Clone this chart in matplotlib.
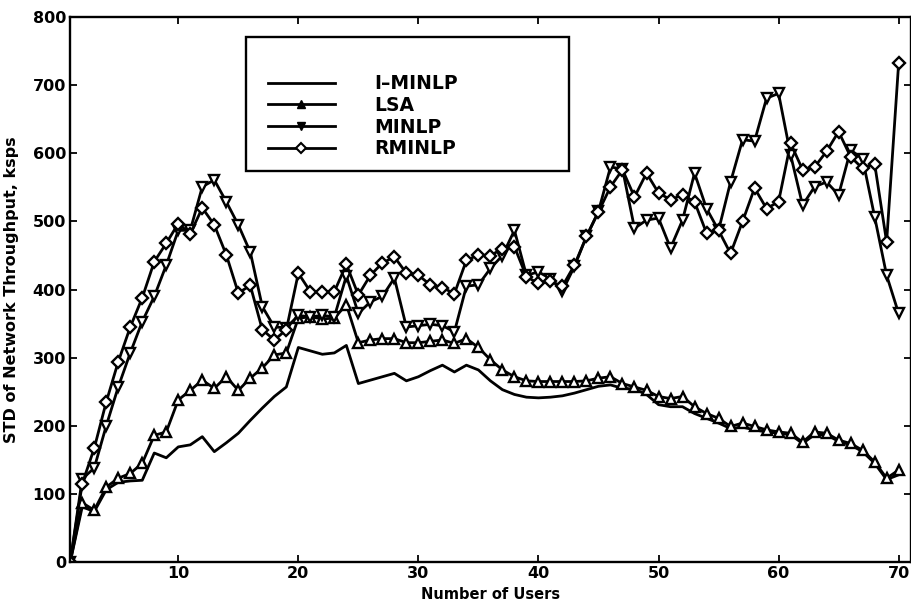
import matplotlib
matplotlib.use("Agg")
import matplotlib.pyplot as plt
from matplotlib.patches import Rectangle
from matplotlib.lines import Line2D

plt.rcParams["font.family"] = ["DejaVu Sans"]
plt.rcParams["font.weight"] = "bold"

users = list(range(1, 71))

i_minlp = [0, 81, 74, 106, 117, 119, 120, 160, 153, 169,
           172, 184, 162, 175, 189, 208, 226, 243, 257, 315,
           310, 305, 307, 318, 262, 267, 272, 277, 266, 272,
           281, 289, 279, 289, 282, 266, 253, 246, 242, 241,
           242, 244, 248, 253, 258, 260, 255, 254, 246, 231,
           228, 228, 218, 211, 204, 196, 198, 194, 191, 189,
           187, 174, 187, 187, 177, 172, 162, 145, 121, 128]

lsa = [0, 87, 76, 110, 123, 130, 145, 186, 191, 238,
       252, 267, 255, 272, 252, 270, 285, 304, 307, 358,
       360, 357, 358, 378, 322, 326, 328, 328, 322, 322,
       324, 326, 321, 328, 315, 297, 282, 272, 266, 265,
       265, 265, 265, 266, 270, 272, 262, 257, 252, 243,
       240, 243, 228, 218, 211, 199, 204, 199, 194, 191,
       189, 176, 191, 189, 179, 174, 164, 147, 123, 135]

minlp = [0, 122, 138, 200, 257, 307, 353, 390, 436, 487,
         487, 551, 561, 529, 495, 455, 375, 345, 344, 362,
         360, 362, 360, 420, 365, 382, 390, 417, 345, 347,
         349, 347, 338, 405, 407, 431, 450, 487, 421, 426,
         416, 398, 434, 478, 515, 580, 577, 490, 502, 505,
         461, 502, 571, 519, 487, 558, 620, 618, 681, 688,
         598, 524, 551, 558, 539, 605, 592, 507, 421, 365]

rminlp = [0, 115, 167, 235, 294, 345, 388, 441, 468, 497,
          482, 520, 495, 451, 395, 406, 341, 326, 341, 424,
          397, 397, 397, 437, 392, 421, 439, 448, 424, 421,
          407, 403, 394, 443, 451, 450, 460, 463, 419, 409,
          412, 405, 436, 478, 514, 551, 576, 536, 571, 542,
          532, 539, 529, 483, 487, 453, 500, 549, 519, 529,
          615, 576, 580, 603, 632, 595, 578, 585, 470, 732]

labels = ["I\u2013MINLP", "LSA", "MINLP", "RMINLP"]
x_ticks = [10, 20, 30, 40, 50, 60, 70]
y_ticks = [0, 100, 200, 300, 400, 500, 600, 700, 800]

fig = plt.figure(figsize=(9.12, 6.05), dpi=100)
ax = fig.add_axes([0.077, 0.0711, 0.9215, 0.9005])

lw = 2.0
mk = dict(markersize=7.5, markerfacecolor="white", markeredgecolor="black",
          markeredgewidth=1.7)
ax.plot(users, i_minlp, color="black", lw=lw)
ax.plot(users, lsa, color="black", lw=lw, marker="^", **mk)
ax.plot(users, minlp, color="black", lw=lw, marker="v", **mk)
ax.plot(users, rminlp, color="black", lw=lw, marker="D", **dict(mk, markersize=6))

ax.set_xlim(1, 71)
ax.set_ylim(0, 800)
ax.set_xticks(x_ticks)
ax.set_yticks(y_ticks)
ax.tick_params(direction="in", top=True, right=True, length=5, width=1.3,
               labelsize=11.5, pad=3)
for s in ax.spines.values():
    s.set_linewidth(1.7)

ax.set_xlabel("Number of Users", fontsize=10.5, fontweight="bold", labelpad=4)
ax.set_ylabel("STD of Network Throughput, ksps", fontsize=11.5,
              fontweight="bold", labelpad=10)

# legend frame
ax.add_patch(Rectangle((0.209, 0.7174), 0.385, 0.246, transform=ax.transAxes,
                       fill=True, facecolor="white", edgecolor="black",
                       lw=1.7, zorder=5))
handles = [
    Line2D([], [], color="black", lw=lw),
    Line2D([], [], color="black", lw=lw, marker="^", markersize=6,
           markerfacecolor="black", markeredgecolor="black"),
    Line2D([], [], color="black", lw=lw, marker="v", markersize=6,
           markerfacecolor="black", markeredgecolor="black"),
    Line2D([], [], color="black", lw=lw, marker="D", markersize=5,
           markerfacecolor="white", markeredgecolor="black", markeredgewidth=1.5),
]
leg = ax.legend(handles, labels, loc="center left", bbox_to_anchor=(0.235, 0.818),
                frameon=False, borderpad=0, borderaxespad=0, handlelength=3.6,
                handletextpad=2.1, labelspacing=0.14, numpoints=1,
                prop=dict(size=13.5, weight="bold"))
leg.set_zorder(6)

fig.savefig("out.png", dpi=100)
